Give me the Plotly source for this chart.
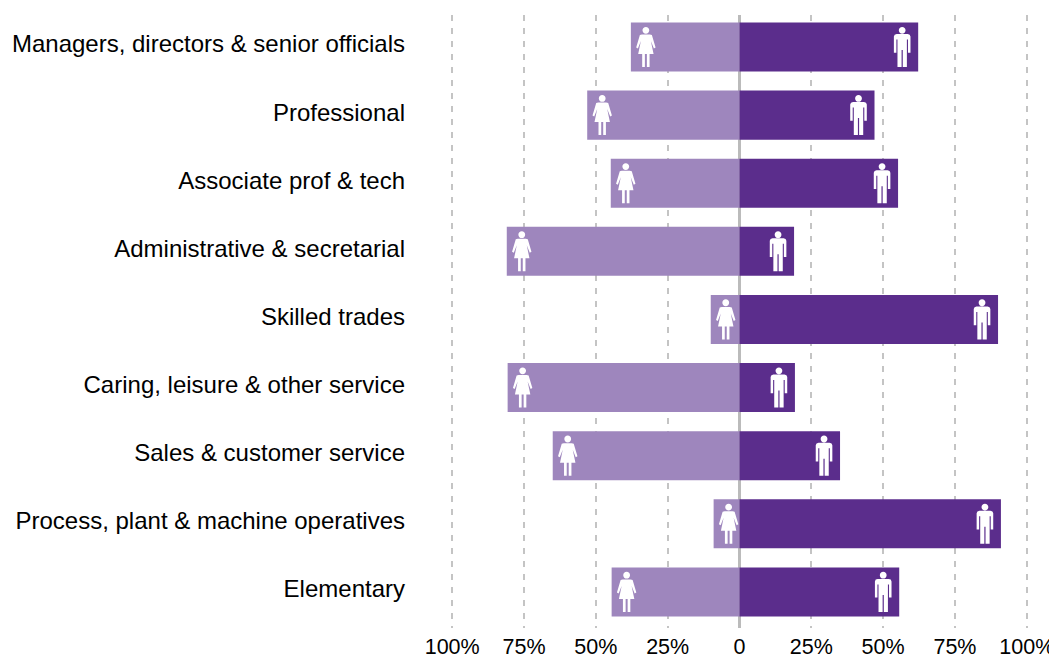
import plotly.graph_objects as go

categories = ["Managers, directors & senior officials", "Professional", "Associate prof & tech",
              "Administrative & secretarial", "Skilled trades", "Caring, leisure & other service",
              "Sales & customer service", "Process, plant & machine operatives", "Elementary"]
women = [37.8, 53, 44.8, 81, 10, 80.7, 65, 9, 44.5]
men = [62.2, 47, 55.2, 19, 90, 19.3, 35, 91, 55.6]
tick_values = [-100, -75, -50, -25, 0, 25, 50, 75, 100]
tick_labels = ["100%", "75%", "50%", "25%", "0", "25%", "50%", "75%", "100%"]

DARK, LIGHT = "#5B2D8C", "#9E86BD"
FONT = "Liberation Sans, Arial, sans-serif"

def circle(cx, cy, r):
    k = 0.55 * r
    return (f"M{cx-r},{cy} C{cx-r},{cy+k} {cx-k},{cy+r} {cx},{cy+r} "
            f"C{cx+k},{cy+r} {cx+r},{cy+k} {cx+r},{cy} "
            f"C{cx+r},{cy-k} {cx+k},{cy-r} {cx},{cy-r} "
            f"C{cx-k},{cy-r} {cx-r},{cy-k} {cx-r},{cy} Z")

def poly(points, ox):
    # glyph outlines are in pixels, y measured downward from the bar centre
    return "M" + " L".join(f"{x+ox},{-y}" for x, y in points) + " Z"

FEMALE = [(-4, -12.5), (4, -12.5), (6, -12), (9.7, 0.5), (8, 1.5), (5, -6), (7.7, 7), (3.7, 7), (3.7, 20),
          (1, 20), (1, 7), (-1, 7), (-1, 20), (-3.7, 20), (-3.7, 7), (-7.7, 7), (-5, -6), (-8, 1.5),
          (-9.7, 0.5), (-6, -12)]
MALE = [(-5.5, -13), (5.5, -13), (7.5, -12.3), (8.3, -10.5), (8.3, 5.7), (5.8, 5.7), (5.8, -7.5), (4.7, -7.5),
        (4.7, 20), (0.6, 20), (0.6, 3), (-0.6, 3), (-0.6, 20), (-4.7, 20), (-4.7, -7.5), (-5.8, -7.5),
        (-5.8, 5.7), (-8.3, 5.7), (-8.3, -10.5), (-7.5, -12.3)]

def icon(value, row, outline, ox):
    path = poly(outline, ox) + " " + circle(ox, 16.7, 3.4)
    return dict(type="path", xref="x", yref="y", xsizemode="pixel", ysizemode="pixel",
                xanchor=value, yanchor=row, path=path,
                fillcolor="white", line=dict(width=0), layer="above")

rows = list(range(len(categories)))
fig = go.Figure()
fig.add_bar(y=rows, x=[-v for v in women], orientation="h", width=0.72, marker_color=LIGHT, marker_line_width=0)
fig.add_bar(y=rows, x=men, orientation="h", width=0.72, marker_color=DARK, marker_line_width=0)

shapes = [icon(-v, r, FEMALE, 15) for r, v in zip(rows, women)] + \
         [icon(v, r, MALE, -16) for r, v in zip(rows, men)]

# the page's body has an 8px margin, so the figure is 8px smaller on each axis
fig.update_layout(
    width=1049, height=651, barmode="overlay", showlegend=False,
    margin=dict(l=412, r=17, t=7, b=31, autoexpand=False),
    paper_bgcolor="white", plot_bgcolor="white",
    font=dict(family=FONT, size=24, color="#000000"),
    shapes=shapes,
    xaxis=dict(range=[-111.2, 104.6], tickvals=tick_values, ticktext=tick_labels, showgrid=True,
               gridcolor="#C4C4C4", gridwidth=2, griddash="6px,7px",
               zeroline=True, zerolinecolor="#BBBBBB", zerolinewidth=2.5, automargin=False,
               tickfont=dict(size=21.5),
               showline=False, ticks="", ticklabelstandoff=3, fixedrange=True),
    yaxis=dict(range=[8.53, -0.47], tickvals=[r - 0.044 for r in rows], ticktext=categories,
               showgrid=False, automargin=False,
               zeroline=False, showline=False, ticks="", ticklabelstandoff=14, fixedrange=True),
)
fig.write_html("out.html", config=dict(displayModeBar=False))
